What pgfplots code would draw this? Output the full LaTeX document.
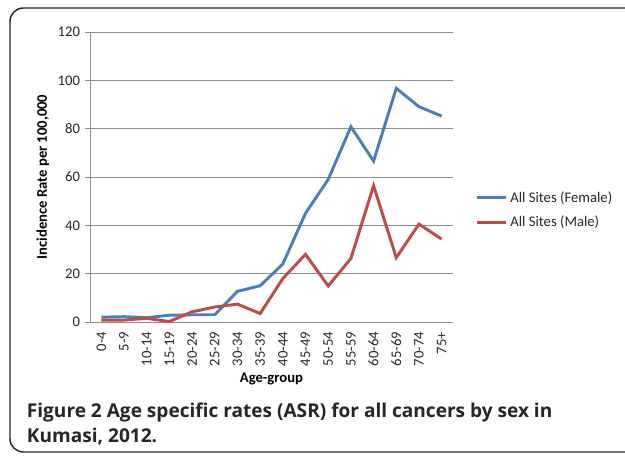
\documentclass[border=0pt]{standalone}
\usepackage{pgfplots}
\pgfplotsset{compat=1.18}
\usepackage{fontspec}
\setmainfont{Carlito}
\newfontfamily\capfont{Open Sans}
\definecolor{fem}{HTML}{4A7EBB}
\definecolor{mal}{HTML}{BE4B48}
\definecolor{gridc}{HTML}{8C8C8C}
\definecolor{txt}{HTML}{262626}
\begin{document}
\begin{tikzpicture}
\useasboundingbox (0,0) rectangle (468.75pt,-342pt);
\begin{scope}
\clip (0,0) rectangle (468.75pt,-342pt);
\draw[line width=1.1pt, black!85, rounded corners=10pt] (7.5pt,-6pt) rectangle (500pt,-339pt);
\end{scope}
\begin{axis}[
  at={(67.5pt,-241.5pt)}, anchor=south west,
  scale only axis, width=272.25pt, height=217.5pt,
  xmin=-0.5, xmax=15.5, ymin=0, ymax=120,
  ytick={0,20,...,120},
  xtick={0,...,15},
  xticklabels={0-4,5-9,10-14,15-19,20-24,25-29,30-34,35-39,40-44,45-49,50-54,55-59,60-64,65-69,70-74,75+},
  xticklabel style={rotate=90, anchor=east, font=\fontsize{11}{13}\selectfont, text=txt},
  yticklabel style={font=\fontsize{11}{13}\selectfont, text=txt},
  /pgf/number format/assume math mode=true,
  major x tick style={draw=none},
  extra x ticks={-0.5,0.5,...,15.5},
  extra x tick labels={},
  extra x tick style={major tick length=4pt, tick style={draw=gridc, line width=0.6pt}, grid=none},
  tick align=outside,
  major tick length=4pt,
  tick style={draw=gridc, line width=0.6pt},
  ymajorgrids, grid style={draw=gridc, line width=0.6pt},
  axis x line*=bottom, axis y line*=left,
  axis line style={draw=gridc, line width=0.6pt, -},
  xlabel={Age-group}, ylabel={Incidence Rate per 100,000},
  xlabel style={font=\bfseries\fontsize{11}{13}\selectfont, text=black, at={(axis description cs:0.5,-0.197)}, anchor=center},
  ylabel style={font=\bfseries\fontsize{11}{13}\selectfont, text=black, at={(axis description cs:-0.13,0.5)}, anchor=center, rotate=0},
  legend style={at={(axis description cs:1.05,0.386)}, anchor=west, draw=none, fill=none,
    font=\fontsize{11}{13}\selectfont, row sep=5pt, text=txt},
  legend cell align=left,
  legend image code/.code={\draw[#1] (0pt,0pt) -- (22pt,0pt);},
]
\addplot[fem, line width=2.2pt] coordinates {
(0,2.0) (1,2.2) (2,1.8) (3,2.8) (4,3.0) (5,3.0) (6,12.7) (7,15.0) (8,24.0) (9,45.0) (10,59.0) (11,80.8) (12,66.6) (13,96.7) (14,89.1) (15,85.2)};
\addlegendentry{All Sites (Female)}
\addplot[mal, line width=2.2pt] coordinates {
(0,0.8) (1,0.8) (2,1.5) (3,0.2) (4,4.2) (5,6.2) (6,7.4) (7,3.5) (8,18.0) (9,28.0) (10,14.9) (11,26.3) (12,56.4) (13,26.6) (14,40.5) (15,34.3)};
\addlegendentry{All Sites (Male)}
\end{axis}
\node[anchor=base west, font=\capfont\bfseries\fontsize{14.3}{17}\selectfont, text=txt, inner sep=0pt] at (20pt,-312.8pt) {Figure 2 Age specific rates (ASR) for all cancers by sex in};
\node[anchor=base west, font=\capfont\bfseries\fontsize{14.3}{17}\selectfont, text=txt, inner sep=0pt] at (20pt,-332pt) {Kumasi, 2012.};
\end{tikzpicture}
\end{document}
